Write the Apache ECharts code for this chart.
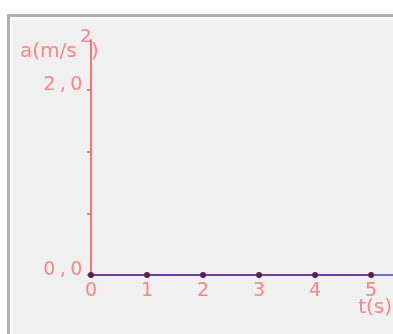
<!DOCTYPE html>
<html>
<head>
<meta charset="utf-8">
<script src="https://cdn.jsdelivr.net/npm/echarts@6/dist/echarts.min.js"></script>
<style>
html,body{margin:0;padding:0;background:#ffffff;}
#c{width:393px;height:334px;}
</style>
</head>
<body>
<div id="c"></div>
<script>
// data
const times = [0, 1, 2, 3, 4, 5];
const accel = [0, 0, 0, 0, 0, 0];
const tailTime = 5.39;     // line continues past the last marked point
const tailAccel = 0;
const xTicks = [0, 1, 2, 3, 4, 5];
const yTickValues = [0, 2/3, 4/3, 2];
const yLabelValues = [0, 2];
const yAxisTitle = ['a(m/s', '2', ')'];
const xAxisTitle = 't(s)';

const RED = '#ff7070';
const LABEL = '#ff8484';
const FONT = 'DejaVu Sans';

const chart = echarts.init(document.getElementById('c'), null, {renderer: 'canvas'});

const lineData = times.map((t, i) => [t, accel[i]]);
lineData.push({value: [tailTime, tailAccel], symbol: 'none'});

function spaced(str) {
  return str.split('').map(c => '{d|' + c + '}').join('');
}

chart.setOption({
  animation: false,
  backgroundColor: '#ffffff',
  graphic: [
    {type: 'rect', shape: {x: 7, y: 14, width: 386, height: 3}, style: {fill: '#b0b0b0'}, z: -10},
    {type: 'rect', shape: {x: 7, y: 14, width: 3, height: 320}, style: {fill: '#b0b0b0'}, z: -10},
    {type: 'rect', shape: {x: 12, y: 20, width: 381, height: 314}, style: {fill: '#f0f0f0'}, z: -10},
    {
      type: 'text', left: 20, top: 42, z: 10,
      style: {text: yAxisTitle[0], fill: LABEL, font: '20px "DejaVu Sans"'}
    },
    {
      type: 'text', left: 80, top: 28, z: 10,
      style: {text: yAxisTitle[1], fill: LABEL, font: '18px "DejaVu Sans"'}
    },
    {
      type: 'text', left: 91, top: 42, z: 10,
      style: {text: yAxisTitle[2], fill: LABEL, font: '20px "DejaVu Sans"'}
    },
    {
      type: 'text', right: 1, top: 298, z: 10,
      style: {text: xAxisTitle, fill: LABEL, font: '20px "DejaVu Sans"'}
    }
  ],
  grid: {left: 91, right: 0, top: 40, bottom: 59, containLabel: false},
  xAxis: {
    type: 'value', min: 0, max: tailTime,
    splitLine: {show: false},
    axisLine: {show: false},
    axisTick: {show: true, length: 4, customValues: xTicks, lineStyle: {color: '#ffb0b0', width: 1}},
    axisLabel: {
      color: LABEL, fontSize: 19, fontFamily: FONT, margin: 7,
      customValues: xTicks,
      formatter: v => String(v)
    }
  },
  yAxis: {
    type: 'value', min: 0, max: 2.54,
    splitLine: {show: false},
    axisLine: {show: true, lineStyle: {color: RED, width: 2}},
    axisTick: {show: true, length: 4, customValues: yTickValues, lineStyle: {color: RED, width: 2}},
    axisLabel: {
      customValues: yLabelValues,
      margin: 8,
      color: LABEL,
      padding: [0, 0, 10, 0],
      formatter: v => spaced(v.toFixed(1).replace('.', ',')),
      rich: {
        d: {width: 13.5, align: 'center', fontSize: 19, fontFamily: FONT, color: LABEL}
      }
    }
  },
  series: [{
    type: 'line',
    data: lineData,
    symbol: 'circle',
    symbolSize: 6,
    itemStyle: {color: '#5a2050'},
    lineStyle: {color: 'rgba(28,28,207,0.62)', width: 2},
    z: 10,
    markLine: {
      silent: true,
      z: 1,
      symbol: 'none',
      label: {show: false},
      lineStyle: {color: RED, width: 2, type: 'solid'},
      data: [[{coord: [times[0], 0]}, {coord: [times[times.length - 1], 0]}]]
    }
  }]
});
</script>
</body>
</html>
